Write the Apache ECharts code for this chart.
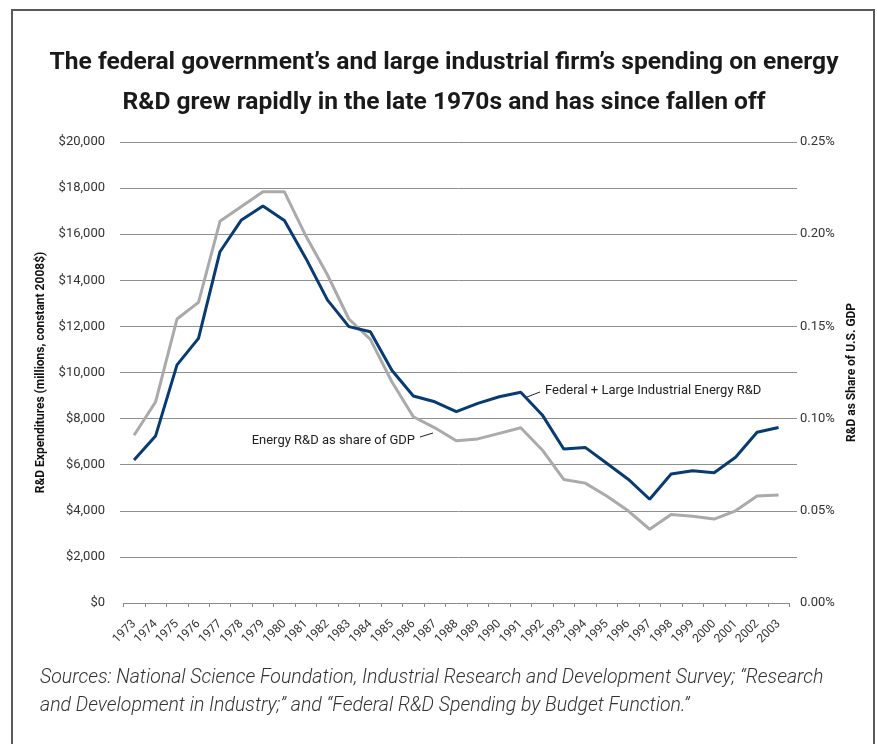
<!DOCTYPE html>
<html>
<head>
<meta charset="utf-8">
<script src="https://cdn.jsdelivr.net/npm/echarts@6/dist/echarts.min.js"></script>
<style>
html,body{margin:0;padding:0;background:#fff;}
#chart{width:877px;height:744px;}
</style>
</head>
<body>
<div id="chart"></div>
<script>
// ---- data ----
var years = ['1973','1974','1975','1976','1977','1978','1979','1980','1981','1982','1983','1984','1985','1986','1987','1988','1989','1990','1991','1992','1993','1994','1995','1996','1997','1998','1999','2000','2001','2002','2003'];
// Federal + Large Industrial Energy R&D, millions of constant 2008 $
var rdSpending = [6200,7240,10330,11480,15240,16620,17220,16590,14950,13150,11990,11770,10100,8980,8730,8300,8660,8950,9140,8160,6680,6750,6060,5370,4500,5600,5740,5650,6320,7410,7610];
// Energy R&D as share of GDP, percent
var rdShareGDP = [0.091,0.109,0.154,0.163,0.207,0.215,0.223,0.223,0.199,0.178,0.154,0.143,0.120,0.101,0.095,0.088,0.089,0.092,0.095,0.083,0.067,0.065,0.058,0.050,0.040,0.048,0.047,0.0455,0.050,0.058,0.0586];
var leftTicks = {min:0, max:20000, interval:2000};
var rightTicks = {min:0, max:0.25, interval:0.05};

var titleLines = ["The federal government\u2019s and large industrial firm\u2019s spending on energy",
                  "R&D grew rapidly in the late 1970s and has since fallen off"];
var sourceLines = ["Sources: National Science Foundation, Industrial Research and Development Survey; \u201cResearch",
                   "and Development in Industry;\u201d and \u201cFederal R&D Spending by Budget Function.\u201d"];

var FONT = 'Roboto';
var chart = echarts.init(document.getElementById('chart'), null, {renderer:'canvas'});

function fmtDollar(v){ return '$' + v.toLocaleString('en-US'); }
function fmtPct(v){ return v.toFixed(2) + '%'; }

var option = {
  backgroundColor: '#fff',
  animation: false,
  grid: [
    {left:120, right:80, top:142, height:461},
    {left:123.3, right:87.7, top:142, height:461}
  ],
  xAxis: [
    {gridIndex:0, type:'value', min:0, max:1, show:false},
    {gridIndex:1, type:'category', data:years, boundaryGap:true,
      axisLine:{show:true, lineStyle:{color:'#8a8a8a', width:1}},
      axisTick:{show:true, length:4, lineStyle:{color:'#8a8a8a'}},
      axisLabel:{rotate:45, margin:19, fontFamily:FONT, fontSize:12, color:'#333', interval:0},
      splitLine:{show:false}
    }
  ],
  yAxis: [
    {gridIndex:0, type:'value', position:'left', min:leftTicks.min, max:leftTicks.max, interval:leftTicks.interval,
      name:'R&D Expenditures (millions, constant 2008$)', nameLocation:'middle', nameGap:73,
      nameTextStyle:{fontFamily:FONT, fontWeight:'bold', fontSize:12, color:'#111'},
      axisLine:{show:false}, axisTick:{show:false},
      axisLabel:{formatter:fmtDollar, margin:15, fontFamily:FONT, fontSize:13, color:'#333'},
      splitLine:{show:true, showMinLine:false, lineStyle:{color:'#8f8f8f', width:1}}
    },
    {gridIndex:0, type:'value', position:'right', min:rightTicks.min, max:rightTicks.max, interval:rightTicks.interval,
      name:'R&D as Share of U.S. GDP', nameLocation:'middle', nameGap:44,
      nameTextStyle:{fontFamily:FONT, fontWeight:'bold', fontSize:12, color:'#111'},
      axisLine:{show:false}, axisTick:{show:false},
      axisLabel:{formatter:fmtPct, margin:3, fontFamily:FONT, fontSize:13, color:'#333'},
      splitLine:{show:false}
    },
    {gridIndex:1, type:'value', min:leftTicks.min, max:leftTicks.max, show:false, splitLine:{show:false}},
    {gridIndex:1, type:'value', min:rightTicks.min, max:rightTicks.max, show:false, splitLine:{show:false}}
  ],
  series: [
    {name:'Energy R&D as share of GDP', type:'line', xAxisIndex:1, yAxisIndex:3, data:rdShareGDP,
      symbol:'none', lineStyle:{color:'#aaaaaa', width:3}, z:2},
    {name:'Federal + Large Industrial Energy R&D', type:'line', xAxisIndex:1, yAxisIndex:2, data:rdSpending,
      symbol:'none', lineStyle:{color:'#073b73', width:3}, z:3}
  ],
  graphic: [
    {type:'rect', shape:{x:12, y:10, width:862, height:800}, style:{fill:'none', stroke:'#5a5a5a', lineWidth:2}, silent:true},
    {type:'text', x:444, y:63, style:{text:titleLines[0], font:'bold 24.6px '+FONT, fill:'#1a1a1a', textAlign:'center', textVerticalAlign:'middle'}},
    {type:'text', x:444, y:103, style:{text:titleLines[1], font:'bold 24.6px '+FONT, fill:'#1a1a1a', textAlign:'center', textVerticalAlign:'middle'}},
    {type:'text', x:40, y:678, style:{text:sourceLines[0], font:'italic 300 19.5px '+FONT, fill:'#333', textAlign:'left', textVerticalAlign:'middle'}},
    {type:'text', x:40, y:706, style:{text:sourceLines[1], font:'italic 300 19.5px '+FONT, fill:'#333', textAlign:'left', textVerticalAlign:'middle'}},
    {type:'text', x:545, y:391, style:{text:'Federal + Large Industrial Energy R&D', font:'13px '+FONT, fill:'#222', textAlign:'left', textVerticalAlign:'middle'}},
    {type:'line', shape:{x1:527, y1:397, x2:540, y2:392}, style:{stroke:'#222', lineWidth:1}},
    {type:'text', x:415, y:441, style:{text:'Energy R&D as share of GDP', font:'13px '+FONT, fill:'#222', textAlign:'right', textVerticalAlign:'middle'}},
    {type:'line', shape:{x1:420, y1:437, x2:433, y2:433}, style:{stroke:'#222', lineWidth:1}}
  ]
};
chart.setOption(option);
</script>
</body>
</html>
